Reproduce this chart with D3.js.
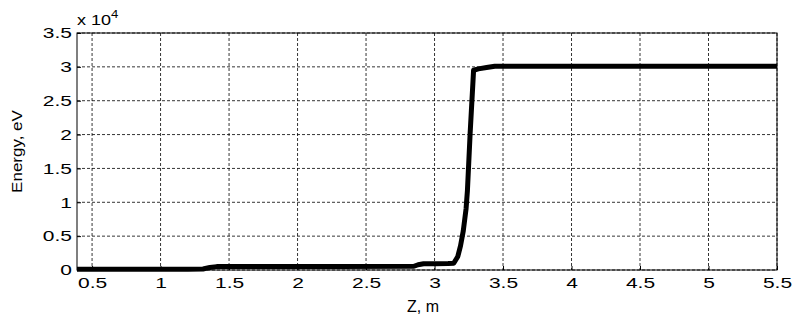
<!DOCTYPE html>
<meta charset="utf-8">
<style>
body { margin: 0; background: #fff; }
svg { font-family: "Liberation Sans", Arial, sans-serif; }
.grid line { stroke: #000; stroke-width: 0.8px; stroke-dasharray: 3,2; }
.axis path { display: none; }
.axis line { stroke: #000; }
.axis text { font-size: 15px; fill: #000; }
.curve { fill: none; stroke: #000; stroke-width: 5px; stroke-linejoin: round; }
</style>
<svg width="797" height="316"></svg>
<script src="https://cdn.jsdelivr.net/npm/d3@7"></script>
<script>

// position along z (m) and beam energy (eV)
var zValues = [0.39, 0.6, 0.9, 1.2, 1.31, 1.36, 1.41, 1.8, 2.3, 2.85, 2.88, 2.92, 3.0, 3.1,
               3.14, 3.17, 3.19, 3.21, 3.23, 3.24, 3.26, 3.28, 3.285, 3.32, 3.38, 3.44, 4.0, 5.0, 5.5];
var energy = [100, 100, 110, 120, 140, 380, 500, 510, 530, 550, 780, 930, 940, 950,
              1000, 2000, 3600, 5800, 9000, 11700, 20200, 27600, 29500, 29700, 29900, 30100, 30100, 30100, 30100];

var xTicks = [0.5, 1, 1.5, 2, 2.5, 3, 3.5, 4, 4.5, 5, 5.5];
var yTicks = [0, 0.5, 1, 1.5, 2, 2.5, 3, 3.5];   // in units of 10^4

var svg = d3.select("svg"),
    margin = {top: 33, right: 20, bottom: 46, left: 77},
    width = 777 - margin.left,
    height = 270 - margin.top,
    g = svg.append("g").attr("transform", "translate(" + margin.left + "," + margin.top + ")");

var x = d3.scaleLinear().domain([0.39, 5.5]).range([0, width]);
var y = d3.scaleLinear().domain([0, 3.5]).range([height, 0]);

var data = zValues.map(function(z, i) { return {z: z, e: energy[i] / 1e4}; });

// dashed grid
var grid = g.append("g").attr("class", "grid");
grid.selectAll("line.v").data(xTicks).enter().append("line")
    .attr("class", "v")
    .attr("x1", function(d) { return x(d); }).attr("x2", function(d) { return x(d); })
    .attr("y1", 0).attr("y2", height);
grid.selectAll("line.h").data(yTicks).enter().append("line")
    .attr("class", "h")
    .attr("x1", 0).attr("x2", width)
    .attr("y1", function(d) { return y(d); }).attr("y2", function(d) { return y(d); });

g.append("g")
    .attr("class", "axis axis--x")
    .attr("transform", "translate(0," + height + ")")
    .call(d3.axisBottom(x).tickValues(xTicks).tickSize(-4).tickPadding(7.5).tickFormat(d3.format("")))
  .selectAll("text")
    .attr("transform", "scale(1.4,1)");

g.append("g")
    .attr("class", "axis axis--y")
    .call(d3.axisLeft(y).tickValues(yTicks).tickSize(-4).tickPadding(3.6).tickFormat(d3.format("")))
  .selectAll("text")
    .attr("transform", "scale(1.4,1)");

var line = d3.line()
    .x(function(d) { return x(d.z); })
    .y(function(d) { return y(d.e); });

g.append("path")
    .datum(data)
    .attr("class", "curve")
    .attr("d", line);

// box
g.append("rect")
    .attr("width", width).attr("height", height)
    .attr("fill", "none").attr("stroke", "#000").attr("stroke-width", 1);

// exponent label
var ex = svg.append("text")
    .attr("transform", "translate(77,25) scale(1.2,1)")
    .style("font-size", "15px");
ex.append("tspan").text("x 10");
ex.append("tspan").attr("dy", -7).style("font-size", "11px").text("4");

svg.append("text")
    .attr("x", 423).attr("y", 312)
    .attr("text-anchor", "middle")
    .style("font-size", "16px")
    .text("Z, m");

svg.append("text")
    .attr("transform", "translate(22," + (margin.top + height / 2) + ") rotate(-90) scale(1,0.85)")
    .attr("text-anchor", "middle")
    .style("font-size", "17px")
    .text("Energy, eV");

</script>
